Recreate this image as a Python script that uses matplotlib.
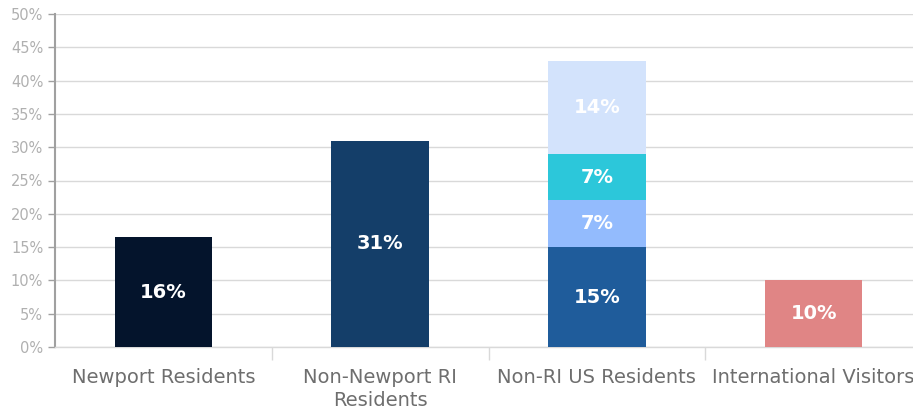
import matplotlib
matplotlib.use("Agg")
import matplotlib.pyplot as plt
import numpy as np

categories = ["Newport Residents", "Non-Newport RI\nResidents", "Non-RI US Residents", "International Visitors"]
# single-segment bars
single_idx = [0, 1, 3]
single_vals = [16.5, 31, 10]
single_labels = ["16%", "31%", "10%"]
single_colors = ["#04142C", "#143E69", "#E08585"]
# stacked bar for Non-RI US Residents
stack_vals = [15, 7, 7, 14]
stack_labels = ["15%", "7%", "7%", "14%"]
stack_colors = ["#1F5C9B", "#93BBFD", "#2CC7DA", "#D3E3FC"]

plt.rcParams["font.family"] = ["DejaVu Sans"]

fig = plt.figure(figsize=(9.13, 4.12), dpi=100)
ax = fig.add_axes([55 / 913, 1 - 347 / 412, (922 - 55) / 913, (347 - 14) / 412])

bw = 0.45
for i, v, lab, c in zip(single_idx, single_vals, single_labels, single_colors):
    ax.bar(i, v, width=bw, color=c, zorder=3)
    ax.text(i, v / 2, lab, ha="center", va="center", color="white",
            fontsize=14, fontweight="bold", zorder=4)

bottom = 0
for v, lab, c in zip(stack_vals, stack_labels, stack_colors):
    ax.bar(2, v, width=bw, bottom=bottom, color=c, zorder=3)
    ax.text(2, bottom + v / 2, lab, ha="center", va="center", color="white",
            fontsize=14, fontweight="bold", zorder=4)
    bottom += v

ax.set_xlim(-0.5, 3.5)
ax.set_ylim(0, 50)
ax.set_yticks(np.arange(0, 51, 5))
ax.set_yticklabels([f"{t}%" for t in range(0, 51, 5)])
ax.tick_params(axis="y", colors="#A0A0A0", labelcolor="#B0B0B0", labelsize=10.5,
               length=5, width=1, direction="out")
ax.grid(axis="y", color="#D9D9D9", lw=1, zorder=0)

ax.set_xticks([0.5, 1.5, 2.5])
ax.set_xticklabels([])
ax.tick_params(axis="x", which="major", length=9, color="#D9D9D9", width=1)
ax.set_xticks(range(4), minor=True)
ax.set_xticklabels(categories, minor=True)
ax.tick_params(axis="x", which="minor", length=0, labelsize=14,
               labelcolor="#6E6E6E", pad=15)
for lab in ax.get_xticklabels(minor=True):
    lab.set_linespacing(1.25)

for s in ["top", "right"]:
    ax.spines[s].set_visible(False)
ax.spines["left"].set_color("#A0A0A0")
ax.spines["left"].set_linewidth(1.5)
ax.spines["bottom"].set_color("#D9D9D9")
ax.spines["bottom"].set_linewidth(1)

fig.savefig("out.png", dpi=100)
